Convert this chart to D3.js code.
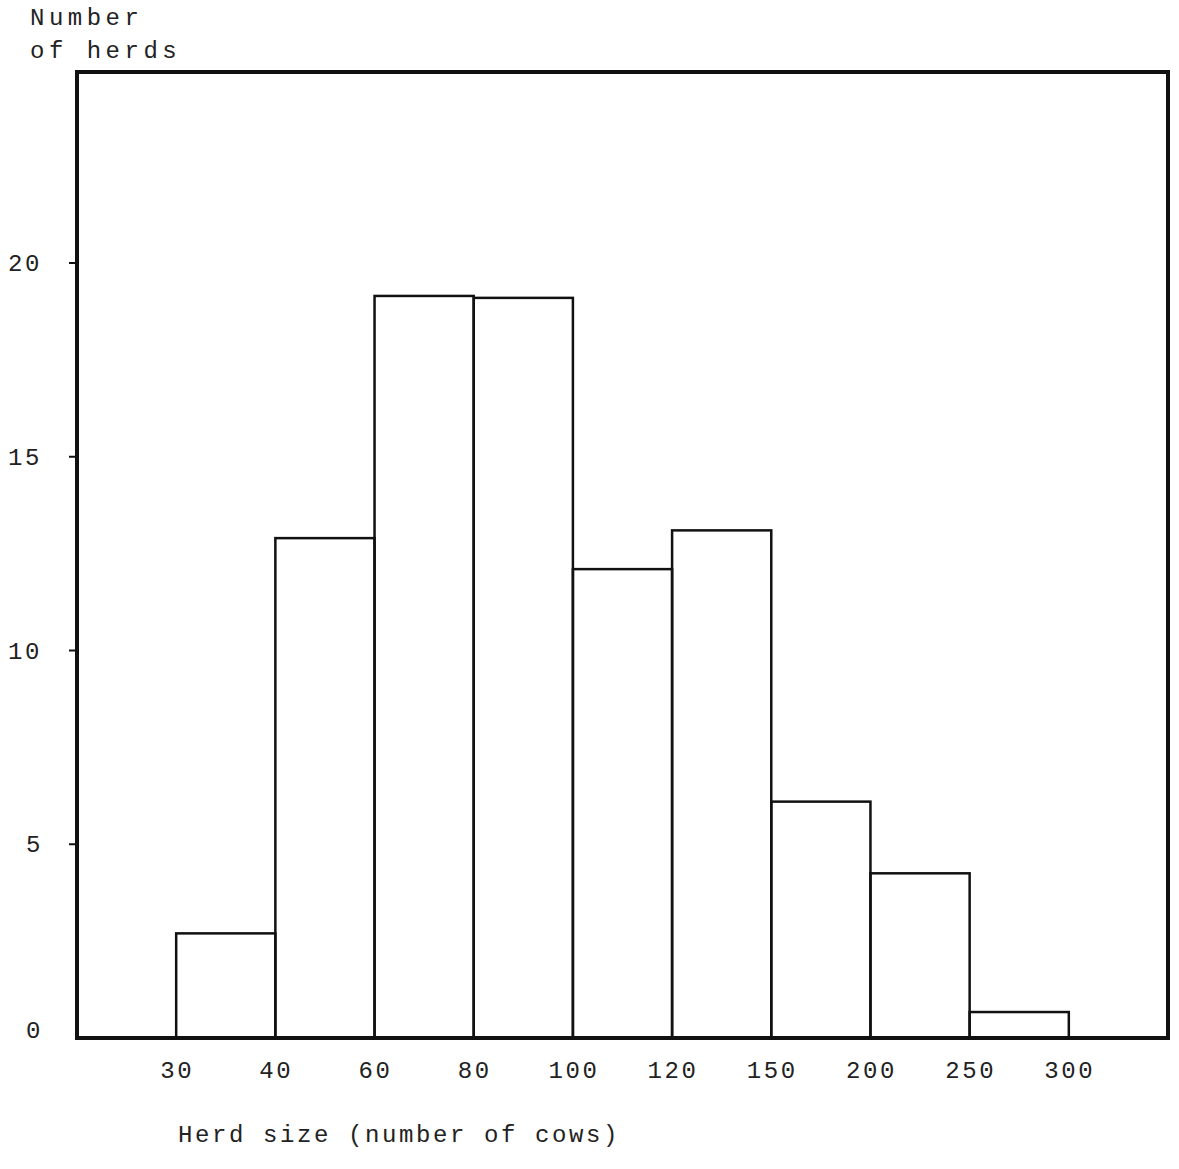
<!DOCTYPE html>
<html>
<head>
<meta charset="utf-8">
<script src="https://cdn.jsdelivr.net/npm/d3@7"></script>
<style>
  body { margin: 0; background: #fff; }
  text { font-family: "Liberation Mono", "DejaVu Sans Mono", monospace; fill: #222; letter-spacing: 2.6px; }
</style>
</head>
<body>
<script>
// bin edges (herd size) and counts per bin
const edgeLabels = ["30", "40", "60", "80", "100", "120", "150", "200", "250", "300"];
const counts = [2.7, 12.9, 19.15, 19.1, 12.1, 13.1, 6.1, 4.25, 0.67];
const yTicks = [0, 5, 10, 15, 20];

const W = 1179, H = 1169;
const frame = { left: 77, right: 1168, top: 72, bottom: 1038 };
const fs = 24;

const svg = d3.select("body").append("svg")
    .attr("width", W).attr("height", H);

// bins are drawn equal width, indexed by edge position
const x = d3.scaleLinear().domain([-1, 10]).range([frame.left, frame.right]);
const y = d3.scaleLinear().domain([0, 20]).range([frame.bottom, 263]);

// bars
svg.selectAll(".bar")
    .data(counts)
    .enter()
    .append("rect")
    .attr("class", "bar")
    .attr("x", (d, i) => x(i))
    .attr("width", x(1) - x(0))
    .attr("y", d => y(d))
    .attr("height", d => y(0) - y(d))
    .attr("fill", "none")
    .attr("stroke", "#111")
    .attr("stroke-width", 2.5);

// frame
svg.append("rect")
    .attr("x", frame.left).attr("y", frame.top)
    .attr("width", frame.right - frame.left)
    .attr("height", frame.bottom - frame.top)
    .attr("fill", "none")
    .attr("stroke", "#111")
    .attr("stroke-width", 4);

// y ticks and labels
svg.selectAll(".ytick")
    .data(yTicks.filter(d => d > 0))
    .enter()
    .append("line")
    .attr("x1", frame.left - 8).attr("x2", frame.left)
    .attr("y1", d => y(d)).attr("y2", d => y(d))
    .attr("stroke", "#111").attr("stroke-width", 2);

svg.selectAll(".ylab")
    .data(yTicks)
    .enter()
    .append("text")
    .attr("x", d => d >= 10 ? 8 : 26)
    .attr("y", d => y(d) + 8 - (d === 0 ? 8 : 0))
    .attr("font-size", fs)
    .text(d => d);

// x labels
svg.selectAll(".xlab")
    .data(edgeLabels)
    .enter()
    .append("text")
    .attr("x", (d, i) => x(i) + 1)
    .attr("y", 1078)
    .attr("text-anchor", "middle")
    .attr("font-size", fs)
    .text(d => d);

// titles
svg.append("text").attr("x", 30).attr("y", 25).attr("font-size", fs)
    .style("letter-spacing", "4.5px").text("Number");
svg.append("text").attr("x", 30).attr("y", 58).attr("font-size", fs)
    .style("letter-spacing", "4.5px").text("of herds");
svg.append("text").attr("x", 178).attr("y", 1142).attr("font-size", fs)
    .text("Herd size (number of cows)");
</script>
</body>
</html>
